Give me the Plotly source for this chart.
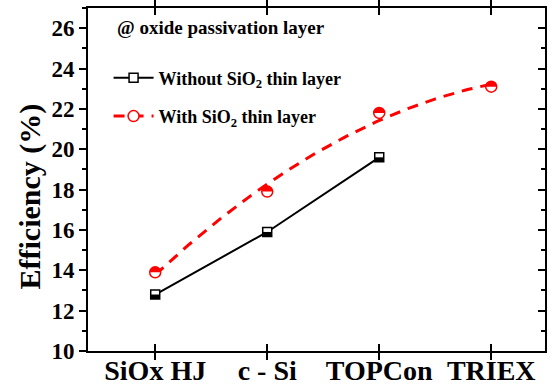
import numpy as np
import plotly.graph_objects as go

categories = ["SiOx HJ", "c - Si", "TOPCon", "TRIEX"]
without_sio2 = [12.8, 15.9, 19.6]
with_sio2 = [13.9, 17.9, 21.8, 23.1]
y_ticks = [10, 12, 14, 16, 18, 20, 22, 24, 26]

FONT = "Liberation Serif"
RED = "#ff0000"
DASH = "11px,8px"

x_wo = list(range(len(without_sio2)))
x_w = list(range(len(with_sio2)))

coef = np.polyfit(x_w, with_sio2, 2)
xf = np.linspace(0, len(with_sio2) - 1, 120)
yf = np.polyval(coef, xf)

fig = go.Figure()
fig.add_trace(go.Scatter(
    x=x_wo, y=without_sio2, mode="lines+markers",
    name="<b>Without SiO<sub>2</sub> thin layer</b>", legendgroup="a",
    line=dict(color="black", width=2),
    marker=dict(symbol="square", size=9, color="white", line=dict(color="black", width=1.5)),
))
fig.add_trace(go.Scatter(
    x=xf, y=yf, mode="lines", showlegend=False,
    line=dict(color=RED, width=3, dash=DASH), hoverinfo="skip",
))
fig.add_trace(go.Scatter(
    x=x_w, y=with_sio2, mode="markers", showlegend=False,
    marker=dict(symbol="circle", size=11, color="white", line=dict(color=RED, width=1.5)),
))
# legend entry for the red series (dashed line + marker)
fig.add_trace(go.Scatter(
    x=[None], y=[None], mode="lines+markers", legendgroup="b",
    name="<b>With SiO<sub>2</sub> thin layer</b>",
    line=dict(color=RED, width=3, dash=DASH),
    marker=dict(symbol="circle", size=11, color="white", line=dict(color=RED, width=1.5)),
))

shapes = []
# half-filled squares (bottom half filled)
for xi, yi in zip(x_wo, without_sio2):
    shapes.append(dict(type="rect", xref="x", yref="y", xsizemode="pixel", ysizemode="pixel",
                       xanchor=xi, yanchor=yi, x0=-4.5, x1=4.5, y0=-4.5, y1=0,
                       fillcolor="black", line=dict(width=0)))
# half-filled circles (top half filled), bezier semicircle
r = 5.5
k = 0.5523 * r
semi = (f"M {-r} 0 C {-r} {k} {-k} {r} 0 {r} C {k} {r} {r} {k} {r} 0 Z")
for xi, yi in zip(x_w, with_sio2):
    shapes.append(dict(type="path", xref="x", yref="y", xsizemode="pixel", ysizemode="pixel",
                       xanchor=xi, yanchor=yi, path=semi,
                       fillcolor=RED, line=dict(width=0)))

fig.update_layout(
    width=552, height=387,
    margin=dict(l=88, r=7, t=8, b=36),
    plot_bgcolor="white", paper_bgcolor="white",
    font=dict(family=FONT, color="black"),
    shapes=shapes,
    showlegend=True,
    legend=dict(x=0.045, y=0.85, xanchor="left", yanchor="top",
                bgcolor="rgba(0,0,0,0)", font=dict(family=FONT, size=18, color="black"),
                tracegroupgap=12, itemwidth=40),
    xaxis=dict(
        range=[-0.6, 3.48], tickmode="array", tickvals=list(range(len(categories))),
        ticktext=["<b>%s</b>" % c for c in categories],
        tickfont=dict(family=FONT, size=28, color="black"), ticklabelstandoff=-7,
        ticks="inside", ticklen=7, tickwidth=1.5, tickcolor="black",
        showline=True, linecolor="black", linewidth=2, mirror="allticks",
        showgrid=False, zeroline=False, automargin=False,
    ),
    yaxis=dict(
        range=[10, 27], tickmode="array", tickvals=y_ticks,
        ticktext=["<b>%d</b>" % v for v in y_ticks],
        tickfont=dict(family=FONT, size=23, color="black"),
        ticks="outside", ticklen=7, tickwidth=1.5, tickcolor="black",
        minor=dict(dtick=1, ticks="outside", ticklen=4, tickwidth=1.5, tickcolor="black"),
        showline=True, linecolor="black", linewidth=2, mirror=True,
        showgrid=False, zeroline=False, automargin=False,
    ),
    yaxis2=dict(
        range=[10, 27], overlaying="y", side="right", tickmode="array", tickvals=y_ticks,
        showticklabels=False, ticks="inside", ticklen=7, tickwidth=1.5, tickcolor="black",
        minor=dict(dtick=1, ticks="inside", ticklen=4, tickwidth=1.5, tickcolor="black"),
        showline=False, showgrid=False, zeroline=False, automargin=False,
    ),
    annotations=[
        dict(text="<b>@ oxide passivation layer</b>", xref="paper", yref="paper",
             x=0.058, y=0.942, xanchor="left", yanchor="middle", showarrow=False,
             font=dict(family=FONT, size=19, color="black")),
        dict(text="<b>Efficiency (%)</b>", xref="paper", yref="paper",
             x=(30 - 88) / 457.0, y=0.5 - (197 - 180) / 343.5, xanchor="center", yanchor="middle",
             textangle=-90, showarrow=False,
             font=dict(family=FONT, size=30, color="black")),
    ],
)
fig.add_trace(go.Scatter(x=[None], y=[None], yaxis="y2", showlegend=False, hoverinfo="skip"))

fig.write_html("out.html")
